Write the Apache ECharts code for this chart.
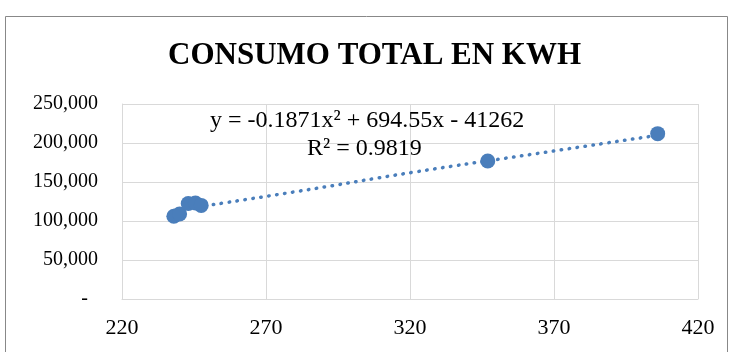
<!DOCTYPE html>
<html>

<head>
    <meta charset="utf-8">
    <script type="text/javascript" src="https://cdn.jsdelivr.net/npm/echarts@6/dist/echarts.min.js"></script>
    <title>Consumo total en KWH</title>
</head>

<body style="margin:0;background:#fff;">
    <div id="container" style="width:733px;height:352px;"></div>
    <script type="text/javascript">
    // datos
    var xValues = [238, 240, 243, 245.5, 247.5, 347, 406];
    var yValues = [106000, 109000, 122500, 123000, 120000, 177000, 212000];
    // puntos de la línea de tendencia (leídos sobre la línea punteada)
    var trendX = [238, 280, 322, 364, 406];
    var trendY = [113400, 137400, 163000, 186500, 209900];
    var xTicks = [220, 270, 320, 370, 420];
    var yTicks = [0, 50000, 100000, 150000, 200000, 250000];

    var blue = '#4a7ebb';
    var font = '"Liberation Serif", "Times New Roman", serif';

    var myChart = echarts.init(document.getElementById('container'));

    var points = xValues.map(function (x, i) { return [x, yValues[i]]; });
    var trend = trendX.map(function (x, i) { return [x, trendY[i]]; });

    var option = {
        animation: false,
        backgroundColor: '#fff',
        title: {
            text: 'CONSUMO TOTAL EN KWH',
            left: 163,
            top: 35,
            textStyle: { fontFamily: font, fontSize: 31, fontWeight: 'bold', color: '#000' }
        },
        graphic: [{
            type: 'rect',
            shape: { x: 5.5, y: 16.5, width: 722, height: 360 },
            style: { fill: 'none', stroke: '#888', lineWidth: 1 },
            silent: true
        }, {
            type: 'text',
            left: 210, top: 109,
            style: { text: 'y = -0.1871x² + 694.55x - 41262', fontFamily: font, fontSize: 24, fill: '#000' },
            z: 10
        }, {
            type: 'text',
            left: 307, top: 137,
            style: { text: 'R² = 0.9819', fontFamily: font, fontSize: 24, fill: '#000' },
            z: 10
        }],
        grid: { left: 122, right: 35, top: 104, bottom: 53 },
        xAxis: {
            type: 'value',
            min: xTicks[0], max: xTicks[xTicks.length - 1], interval: 50,
            axisLine: { show: true, lineStyle: { color: '#d9d9d9' } },
            axisTick: { show: false },
            splitLine: { lineStyle: { color: '#d9d9d9' } },
            axisLabel: { margin: 18, fontFamily: font, fontSize: 22, color: '#000' }
        },
        yAxis: {
            type: 'value',
            min: yTicks[0], max: yTicks[yTicks.length - 1], interval: 50000,
            axisLine: { show: true, lineStyle: { color: '#d9d9d9' } },
            axisTick: { show: false },
            splitLine: { lineStyle: { color: '#d9d9d9' } },
            axisLabel: {
                margin: 24, fontFamily: font, fontSize: 20, color: '#000',
                // formato contable: el cero se muestra como guion
                formatter: function (v) { return v === 0 ? '-\u00a0\u00a0' : v.toLocaleString('en-US'); }
            }
        },
        series: [{
            // línea de tendencia polinómica
            type: 'line',
            data: trend,
            smooth: true,
            symbol: 'none',
            lineStyle: { color: blue, width: 3.5, type: [0.5, 7.5], cap: 'round' },
            z: 2
        }, {
            type: 'scatter',
            data: points,
            symbolSize: 15,
            itemStyle: { color: blue, opacity: 1 },
            z: 3
        }]
    };

    myChart.setOption(option);
    </script>
</body>

</html>
